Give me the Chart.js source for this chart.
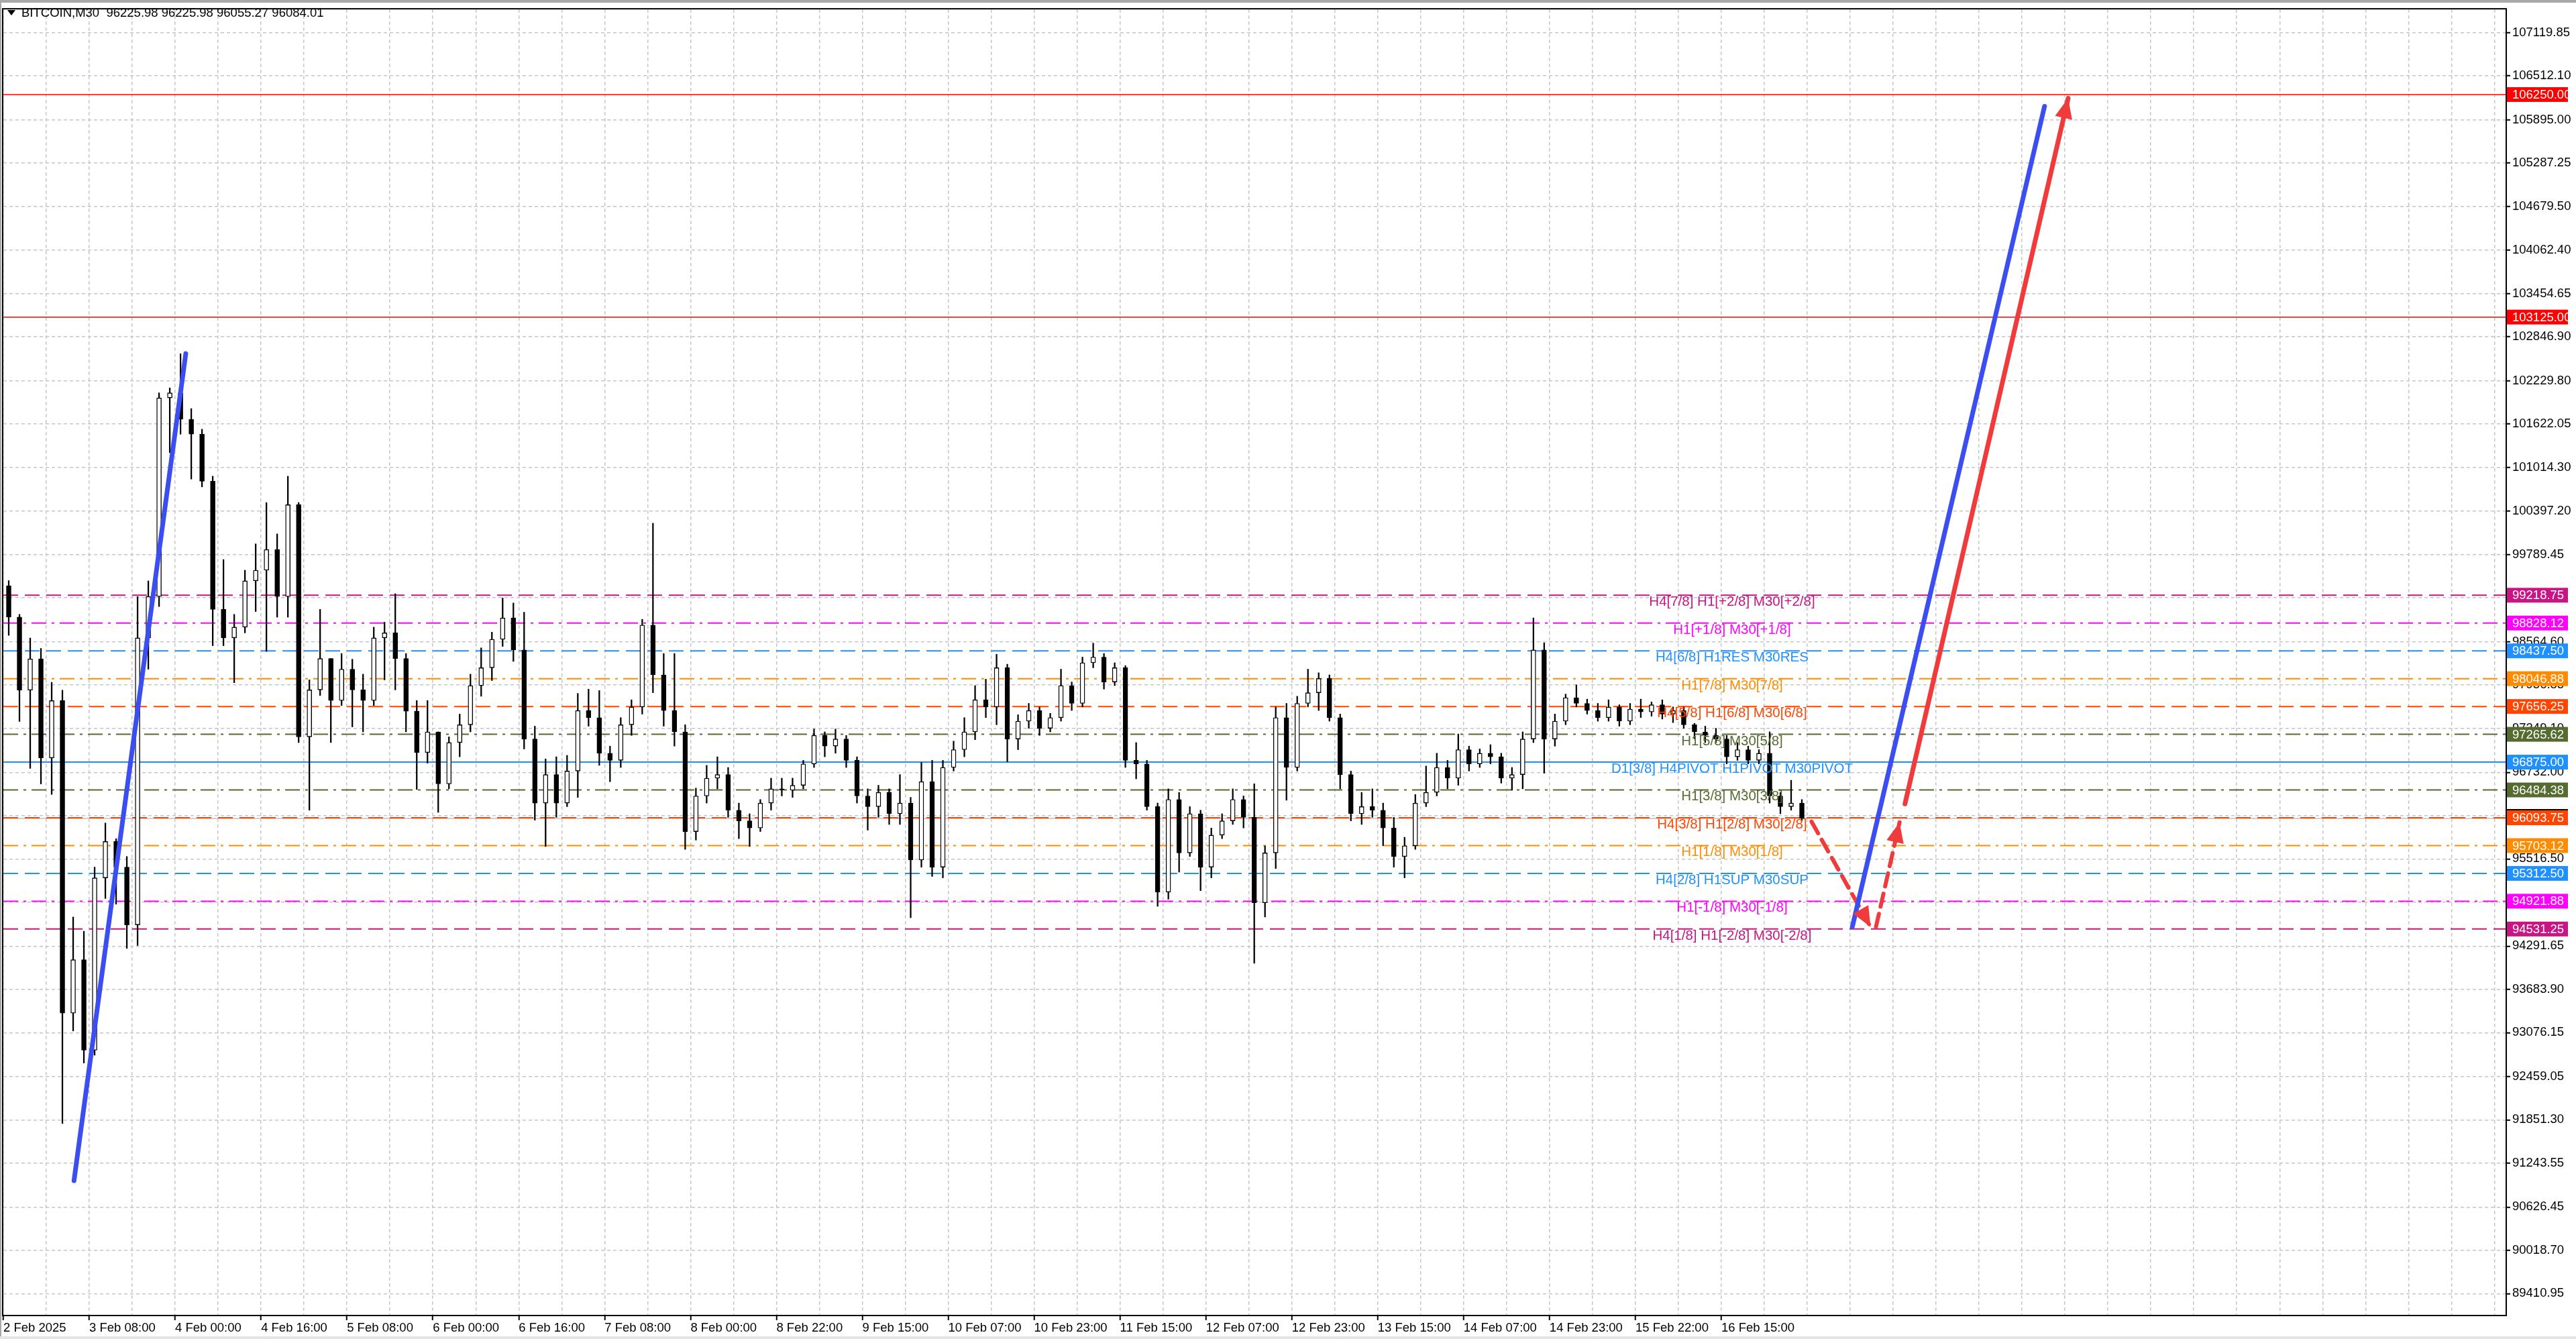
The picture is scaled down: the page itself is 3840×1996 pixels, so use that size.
<!DOCTYPE html>
<html>
<head>
<meta charset="utf-8">
<title>BITCOIN,M30</title>
<script src="https://cdn.jsdelivr.net/npm/chart.js@4.4.1/dist/chart.umd.min.js"></script>
<style>
html, body { margin: 0; padding: 0; background: #ffffff; }
#wrap { position: relative; width: 3840px; height: 1996px; }
</style>
</head>
<body>
<div id="wrap"><canvas id="chartBitcoin"></canvas></div>
<script>
// --- dados do grafico (velas de 2h) ---
const titleText = 'BITCOIN,M30  96225.98 96225.98 96055.27 96084.01';

const timeLabels = ['2 Feb 2025', '3 Feb 08:00', '4 Feb 00:00', '4 Feb 16:00', '5 Feb 08:00', '6 Feb 00:00',
    '6 Feb 16:00', '7 Feb 08:00', '8 Feb 00:00', '8 Feb 22:00', '9 Feb 15:00', '10 Feb 07:00', '10 Feb 23:00',
    '11 Feb 15:00', '12 Feb 07:00', '12 Feb 23:00', '13 Feb 15:00', '14 Feb 07:00', '14 Feb 23:00',
    '15 Feb 22:00', '16 Feb 15:00'];

const priceTicks = [107119.85, 106512.10, 105895.00, 105287.25, 104679.50, 104062.40, 103454.65, 102846.90,
    102229.80, 101622.05, 101014.30, 100397.20, 99789.45, 99181.70, 98564.60, 97956.85, 97349.10, 96732.00,
    96124.25, 95516.50, 94908.75, 94291.65, 93683.90, 93076.15, 92459.05, 91851.30, 91243.55, 90626.45,
    90018.70, 89410.95];

const openPrices = [99351, 98911, 97886, 98325, 96934, 97739, 93350, 94100, 92830, 95250,
    95760, 95400, 94590, 98620, 99200, 101990, 102060, 101690, 101480, 100820,
    99020, 98620, 98770, 99420, 99570, 99860, 99200, 100490, 97230, 97890,
    98330, 97740, 98180, 97890, 97740, 98620, 98690, 98330, 97590, 97010,
    97300, 96570, 97150, 97400, 97950, 98200, 98600, 98900, 98450, 97200,
    96300, 96700, 96300, 96750, 97600, 97500, 97000, 96900, 97400, 97650,
    98800, 98100, 97600, 97300, 95900, 96400, 96650, 96700, 96200, 96050,
    95950, 96300, 96500, 96480, 96550, 96850, 97250, 97100, 97200, 96900,
    96400, 96250, 96450, 96150, 96300, 95500, 96600, 95400, 96800, 97050,
    97300, 97750, 97650, 98200, 97200, 97450, 97600, 97350, 97500, 97950,
    97700, 98270, 98350, 98000, 98200, 96900, 96850, 96250, 95050, 96350,
    95600, 96150, 95400, 95850, 96050, 96350, 96100, 94900, 95600, 97500,
    96800, 97700, 97850, 98050, 97500, 96700, 96150, 96250, 96200, 95950,
    95550, 95700, 96300, 96450, 96800, 96650, 97050, 96850, 97000, 96950,
    96650, 96700, 97200, 98450, 97200, 97450, 97780, 97700, 97600, 97500,
    97650, 97450, 97620, 97580, 97680, 97550, 97600, 97400, 97300, 97250,
    97200, 96950, 97050, 96900, 97000, 96400, 96250, 96300];

const highPrices = [99424, 98950, 98618, 98472, 97996, 97886, 94700, 94500, 95400, 96020,
    95800, 95550, 99200, 99420, 102060, 102130, 102610, 101840, 101550, 100890,
    99720, 98950, 99570, 99940, 100520, 100080, 100890, 100520, 98030, 99020,
    98330, 98400, 98320, 98110, 98770, 98840, 99240, 98400, 97740, 97740,
    97300, 97230, 97550, 98110, 98480, 98700, 99180, 99110, 98980, 97380,
    96920, 96950, 96970, 97840, 97900, 97880, 97100, 97500, 97750, 98880,
    100230, 98400, 98400, 97400, 96510, 96830, 96950, 96800, 96300, 96150,
    96350, 96650, 96650, 96650, 96900, 97340, 97300, 97340, 97250, 96950,
    96500, 96550, 96500, 96700, 96380, 96870, 96900, 96900, 97170, 97500,
    97950, 98040, 98390, 98250, 97540, 97700, 97650, 97560, 98180, 98000,
    98350, 98545, 98400, 98270, 98230, 97150, 96900, 96300, 96500, 96450,
    96250, 96200, 95950, 96150, 96500, 96400, 96570, 95700, 97650, 97700,
    97800, 98180, 98130, 98100, 97550, 96750, 96450, 96500, 96300, 96100,
    95820, 96420, 96820, 97000, 96900, 97270, 97100, 97060, 97120, 97000,
    96800, 97300, 98900, 98550, 97550, 97830, 97960, 97760, 97700, 97750,
    97680, 97700, 97760, 97720, 97750, 97650, 97650, 97420, 97380, 97350,
    97250, 97150, 97100, 97050, 97300, 96450, 96620, 96350];

const lowPrices = [98655, 97446, 96787, 96568, 96421, 91800, 93100, 92650, 92760, 94960,
    94880, 94260, 94300, 98180, 99060, 101220, 101480, 100850, 100740, 98510,
    98510, 97990, 98690, 98990, 98430, 98910, 98910, 97150, 96200, 97810,
    97150, 97670, 97370, 97300, 97670, 98030, 97890, 97300, 96490, 96860,
    96170, 96500, 96950, 97300, 97800, 98020, 98500, 98290, 97060, 96060,
    95690, 96100, 96250, 96380, 97380, 96830, 96600, 96800, 97250, 97550,
    97850, 97380, 97100, 95650, 95780, 96300, 96500, 96100, 95800, 95690,
    95900, 96200, 96400, 96380, 96500, 96800, 96950, 97000, 96800, 96300,
    95920, 96100, 96000, 96000, 94690, 95400, 95270, 95250, 96750, 96950,
    97190, 97500, 97400, 96880, 97050, 97350, 97250, 97300, 97450, 97600,
    97650, 98200, 97900, 97950, 96800, 96640, 96200, 94850, 94950, 95330,
    95550, 95070, 95250, 95800, 96000, 95950, 94050, 94700, 95380, 96340,
    96750, 97650, 97600, 97450, 96500, 96050, 96000, 96100, 95700, 95400,
    95250, 95650, 96250, 96400, 96500, 96550, 96750, 96800, 96850, 96580,
    96480, 96500, 97150, 96720, 97100, 97400, 97650, 97550, 97450, 97450,
    97380, 97400, 97500, 97520, 97480, 97430, 97350, 97200, 97150, 97150,
    96850, 96900, 96850, 96850, 96300, 96150, 96200, 96055];

const closePrices = [98911, 97886, 98325, 96934, 97739, 93350, 94100, 92830, 95250, 95760,
    95400, 94590, 98620, 99200, 101990, 102060, 101690, 101480, 100820, 99020,
    98620, 98770, 99420, 99570, 99860, 99200, 100490, 97230, 97890, 98330,
    97740, 98180, 97890, 97740, 98620, 98690, 98330, 97590, 97010, 97300,
    96570, 97150, 97400, 97950, 98200, 98600, 98900, 98450, 97200, 96300,
    96700, 96300, 96750, 97600, 97500, 97000, 96900, 97400, 97650, 98800,
    98100, 97600, 97300, 95900, 96400, 96650, 96700, 96200, 96050, 95950,
    96300, 96500, 96480, 96550, 96850, 97250, 97100, 97200, 96900, 96400,
    96250, 96450, 96150, 96300, 95500, 96600, 95400, 96800, 97050, 97300,
    97750, 97650, 98200, 97200, 97450, 97600, 97350, 97500, 97950, 97700,
    98270, 98350, 98000, 98200, 96900, 96850, 96250, 95050, 96350, 95600,
    96150, 95400, 95850, 96050, 96350, 96100, 94900, 95600, 97500, 96800,
    97700, 97850, 98050, 97500, 96700, 96150, 96250, 96200, 95950, 95550,
    95700, 96300, 96450, 96800, 96650, 97050, 96850, 97000, 96950, 96650,
    96700, 97200, 98450, 97200, 97450, 97780, 97700, 97600, 97500, 97650,
    97450, 97620, 97580, 97680, 97550, 97600, 97400, 97300, 97250, 97200,
    96950, 97050, 96900, 97000, 96400, 96250, 96300, 96084.01];

// niveis horizontais (Murrey) e seus textos
const levelPrices = [106250.00, 103125.00, 99218.75, 98828.12, 98437.50, 98046.88, 97656.25, 97265.62,
    96875.00, 96484.38, 96093.75, 95703.12, 95312.50, 94921.88, 94531.25];
const levelNames = ['', '', 'H4[7/8] H1[+2/8] M30[+2/8]', 'H1[+1/8] M30[+1/8]', 'H4[6/8] H1RES M30RES',
    'H1[7/8] M30[7/8]', 'H4[5/8] H1[6/8] M30[6/8]', 'H1[5/8] M30[5/8]', 'D1[3/8] H4PIVOT H1PIVOT M30PIVOT',
    'H1[3/8] M30[3/8]', 'H4[3/8] H1[2/8] M30[2/8]', 'H1[1/8] M30[1/8]', 'H4[2/8] H1SUP M30SUP',
    'H1[-1/8] M30[-1/8]', 'H4[1/8] H1[-2/8] M30[-2/8]'];
const currentPrice = 96084.01;

// linhas desenhadas: [indice da vela, preco]
const blueTrendA = [[6.08, 90997], [16.49, 102612]];
const blueTrendB = [[171.7, 94562], [189.6, 106085]];
const redTarget = [[176.6, 96288], [191.8, 106199]];
const redDipDown = [[167.9, 96040], [173.4, 94560]];
const redDipUp = [[173.9, 94560], [176.1, 96030]];

// --- estilos / layout ---
const X_MIN = -0.5, X_MAX = 232.6;
const Y_MIN = 89103.6, Y_MAX = 107444.8;
const LEVEL_TEXT_AT = 160.5;
const levelColors = ['#ff0000', '#ff0000', '#c71585', '#ff00ff', '#1e90ff', '#ff8c00', '#ff4500', '#556b2f',
    '#1e90ff', '#556b2f', '#ff4500', '#ff8c00', '#1e90ff', '#ff00ff', '#c71585'];
const levelKinds = ['solid', 'solid', 'dash', 'dashdot', 'dash', 'dashdot', 'dash', 'dashdot',
    'solid', 'dashdot', 'dash', 'dashdot', 'dash', 'dashdot', 'dash'];
const dashByKind = { solid: [], dash: [22, 10], dashdot: [22, 8, 4, 8] };
const AXIS_FONT = { family: "'Liberation Sans', Arial, sans-serif", size: 18.5 };
const GRID_COLOR = '#c6c6c6';

const gridSteps = Array.from({ length: 59 }, (_, m) => X_MIN + 4 * m);

const idx = openPrices.map((_, i) => i);
const wickData = idx.map(i => ({ x: i, y: [lowPrices[i], highPrices[i]] }));
const bodyData = idx.map(i => ({ x: i, y: [openPrices[i], closePrices[i]] }));
const bodyFill = idx.map(i => closePrices[i] >= openPrices[i] ? '#ffffff' : '#000000');

function toPts(arr) { return arr.map(p => ({ x: p[0], y: p[1] })); }

var datasets = [];
levelPrices.forEach(function (p, i) {
    datasets.push({
        type: 'line', data: [{ x: X_MIN, y: p }, { x: X_MAX, y: p }],
        borderColor: levelColors[i], borderWidth: i < 2 ? 1.5 : 2, borderDash: dashByKind[levelKinds[i]],
        pointRadius: 0, order: 10
    });
});
datasets.push({
    type: 'line', data: [{ x: X_MIN, y: currentPrice }, { x: X_MAX, y: currentPrice }],
    borderColor: '#c0c0c0', borderWidth: 1.5, pointRadius: 0, order: 11
});
datasets.push({ type: 'bar', data: wickData, backgroundColor: '#000000', barThickness: 1.6, grouped: false, order: 4 });
datasets.push({
    type: 'bar', data: bodyData, backgroundColor: bodyFill, borderColor: '#000000', borderWidth: 1.4,
    borderSkipped: false, barThickness: 7, minBarLength: 2, grouped: false, order: 3
});
[[blueTrendA, '#3b4ef0', false, []], [blueTrendB, '#3b4ef0', false, []], [redTarget, '#ef3b3b', true, []],
 [redDipDown, '#ef3b3b', true, [20, 11]], [redDipUp, '#ef3b3b', true, [20, 11]]].forEach(function (t) {
    datasets.push({
        type: 'line', data: toPts(t[0]), borderColor: t[1], borderWidth: t[3].length ? 6 : 7, borderDash: t[3],
        borderCapStyle: 'round', pointRadius: 0, order: 1, arrowHead: t[2]
    });
});

const mt4Decor = {
    id: 'mt4Decor',
    beforeDraw(chart) {
        const c = chart.ctx;
        c.save();
        c.fillStyle = '#ffffff';
        c.fillRect(0, 0, chart.width, chart.height);
        c.fillStyle = '#a8a8a8';
        c.fillRect(0, 0, chart.width, 4);
        c.fillRect(0, 0, 2, chart.height);
        c.fillStyle = '#e4e4e4';
        c.fillRect(0, chart.height - 4, chart.width, 4);
        c.restore();
    },
    afterDatasetsDraw(chart) {
        const c = chart.ctx, xs = chart.scales.x, ys = chart.scales.y, area = chart.chartArea;
        c.save();
        c.beginPath();
        c.rect(area.left, area.top, area.right - area.left, area.bottom - area.top);
        c.clip();
        // textos dos niveis
        c.font = "20.5px 'Liberation Sans', Arial, sans-serif";
        c.textAlign = 'center';
        c.textBaseline = 'top';
        levelPrices.forEach(function (p, i) {
            if (!levelNames[i]) return;
            c.fillStyle = levelColors[i];
            c.fillText(levelNames[i], xs.getPixelForValue(LEVEL_TEXT_AT), ys.getPixelForValue(p));
        });
        // pontas de seta
        chart.data.datasets.forEach(function (ds, i) {
            if (!ds.arrowHead) return;
            const pts = chart.getDatasetMeta(i).data;
            const a = pts[pts.length - 2], b = pts[pts.length - 1];
            const ang = Math.atan2(b.y - a.y, b.x - a.x);
            const len = 30, half = 13;
            c.fillStyle = ds.borderColor;
            c.beginPath();
            c.moveTo(b.x, b.y);
            c.lineTo(b.x - len * Math.cos(ang) + half * Math.sin(ang), b.y - len * Math.sin(ang) - half * Math.cos(ang));
            c.lineTo(b.x - len * Math.cos(ang) - half * Math.sin(ang), b.y - len * Math.sin(ang) + half * Math.cos(ang));
            c.closePath();
            c.fill();
        });
        c.restore();
    },
    afterDraw(chart) {
        const c = chart.ctx, ys = chart.scales.y, area = chart.chartArea;
        c.save();
        // moldura
        c.strokeStyle = '#000000';
        c.lineWidth = 2;
        c.strokeRect(area.left - 1, area.top - 1, area.right - area.left + 1, area.bottom - area.top + 1);
        // etiquetas de preco no eixo
        c.font = AXIS_FONT.size + 'px ' + AXIS_FONT.family;
        c.textAlign = 'left';
        c.textBaseline = 'middle';
        const bx = area.right + 1, bw = 91;
        const yc = ys.getPixelForValue(currentPrice);
        c.fillStyle = '#000000';
        c.fillRect(bx, yc - 14, bw, 24);
        levelPrices.forEach(function (p, i) {
            const y = ys.getPixelForValue(p);
            c.fillStyle = levelColors[i];
            c.fillRect(bx, y - 11, bw, 22);
            c.fillStyle = '#ffffff';
            c.fillText(p.toFixed(2), area.right + 9, y + 1);
        });
        // titulo
        c.fillStyle = '#000000';
        c.beginPath();
        c.moveTo(11, 15); c.lineTo(23, 15); c.lineTo(17, 23); c.closePath();
        c.fill();
        c.textBaseline = 'middle';
        c.fillText(titleText, 32, 20);
        c.restore();
    }
};

new Chart(document.getElementById('chartBitcoin'), {
    type: 'bar',
    data: { datasets: datasets },
    plugins: [mt4Decor],
    options: {
        responsive: true, maintainAspectRatio: false, animation: false, devicePixelRatio: 1,
        layout: { padding: { left: 5, top: 7, right: 0, bottom: 0 } },
        plugins: { legend: { display: false }, tooltip: { enabled: false } },
        scales: {
            x: {
                type: 'linear', min: X_MIN, max: X_MAX, offset: false,
                afterBuildTicks: function (s) { s.ticks = gridSteps.map(v => ({ value: v })); },
                afterFit: function (s) { s.height = 35; },
                grid: {
                    color: GRID_COLOR, lineWidth: 1.5, offset: false, tickLength: 7, tickWidth: 2,
                    tickColor: ctx => (ctx.index % 2 === 0 && ctx.index / 2 < timeLabels.length) ? '#000000' : 'rgba(0,0,0,0)'
                },
                border: { display: true, color: '#000000', width: 2, dash: [5, 4] },
                ticks: {
                    autoSkip: false, maxRotation: 0, minRotation: 0, align: 'start', padding: 1,
                    color: '#000000', font: AXIS_FONT,
                    callback: (v, i) => i % 2 === 0 ? (timeLabels[i / 2] || '') : ''
                }
            },
            y: {
                type: 'linear', position: 'right', min: Y_MIN, max: Y_MAX,
                afterBuildTicks: function (s) { s.ticks = priceTicks.map(v => ({ value: v })); },
                afterFit: function (s) { s.width = 104; },
                grid: { color: GRID_COLOR, lineWidth: 1.5, tickLength: 6, tickWidth: 2, tickColor: '#000000' },
                border: { display: true, color: '#000000', width: 2, dash: [5, 4] },
                ticks: { padding: 3, color: '#000000', font: AXIS_FONT, callback: v => Number(v).toFixed(2) }
            }
        }
    }
});
</script>
</body>
</html>
